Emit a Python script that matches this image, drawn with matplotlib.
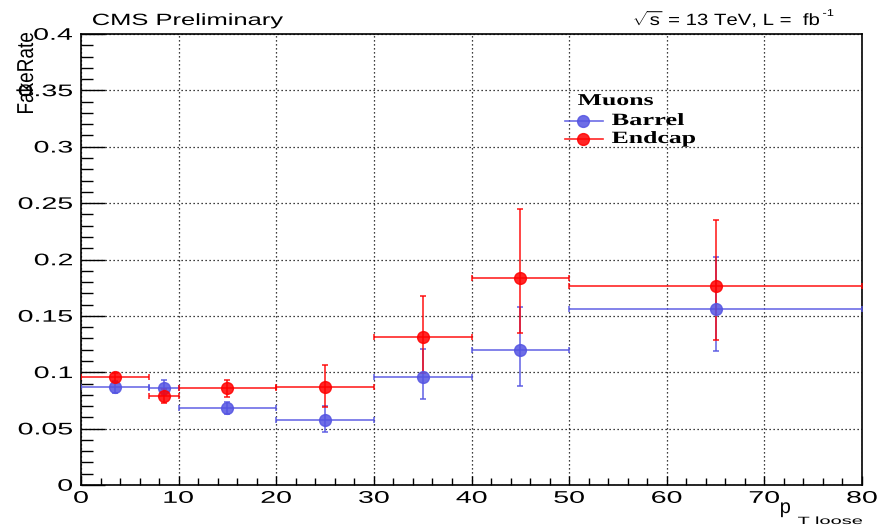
import matplotlib
matplotlib.use("Agg")
import matplotlib.pyplot as plt
from matplotlib.lines import Line2D
from matplotlib.ticker import MultipleLocator
from matplotlib.textpath import TextPath
from matplotlib.patches import PathPatch
from matplotlib.font_manager import FontProperties
from matplotlib.transforms import Affine2D
import numpy as np

# bins in pT loose
bin_lo = [0, 7, 10, 20, 30, 40, 50]
bin_hi = [7, 10, 20, 30, 40, 50, 80]
pt = [3.5, 8.5, 15, 25, 35, 45, 65]

# barrel fake rate with asymmetric errors (low / high edges)
barrel = [0.087, 0.086, 0.068, 0.058, 0.096, 0.120, 0.156]
barrel_lo = [0.082, 0.080, 0.063, 0.047, 0.076, 0.088, 0.119]
barrel_hi = [0.092, 0.093, 0.074, 0.070, 0.121, 0.158, 0.202]

# endcap fake rate
endcap = [0.0955, 0.079, 0.0857, 0.0866, 0.131, 0.184, 0.1765]
endcap_lo = [0.091, 0.073, 0.078, 0.0695, 0.0996, 0.135, 0.129]
endcap_hi = [0.0996, 0.085, 0.093, 0.1064, 0.168, 0.245, 0.235]

xticks = [0, 10, 20, 30, 40, 50, 60, 70, 80]
yticks = [0, 0.05, 0.1, 0.15, 0.2, 0.25, 0.3, 0.35, 0.4]
ytick_labels = ['0', '0.05', '0.1', '0.15', '0.2', '0.25', '0.3', '0.35', '0.4']

plt.rcParams['font.family'] = ['Liberation Sans', 'DejaVu Sans']
plt.rcParams['mathtext.fontset'] = 'custom'
plt.rcParams['mathtext.rm'] = 'Liberation Sans'
plt.rcParams['mathtext.it'] = 'Liberation Sans'

W, H = 889, 525
fig = plt.figure(figsize=(W / 100, H / 100), dpi=100)
ax = fig.add_axes([81 / W, 40 / H, (862 - 81) / W, (485 - 34) / H])


def px(x, y):
    return x / W, 1 - y / H


def stext(s, x, y, em, width=None, sx=1.0, ha='left', va='baseline', rot=0,
          family='Liberation Sans', weight='normal'):
    # text as a path so it can be stretched sideways like the ROOT output
    tp = TextPath((0, 0), s, size=em, prop=FontProperties(family=family, weight=weight))
    ext = tp.get_extents()
    if width is not None:
        sx = width / ext.width
    ox = {'left': ext.x0, 'center': (ext.x0 + ext.x1) / 2, 'right': ext.x1}[ha]
    oy = {'baseline': 0, 'center': (ext.y0 + ext.y1) / 2, 'top': ext.y1}[va]
    t = Affine2D().translate(-ox, -oy).scale(sx, 1).rotate_deg(rot).translate(x, H - y)
    fig.add_artist(PathPatch(tp, transform=t, lw=0, fc='black'))


def draw(y, ylo, yhi, color):
    x = np.array(pt)
    y = np.array(y)
    xerr = [x - np.array(bin_lo), np.array(bin_hi) - x]
    yerr = [y - np.array(ylo), np.array(yhi) - y]
    ax.errorbar(x, y, xerr=xerr, yerr=yerr, fmt='o', color=color,
                ms=8.5, elinewidth=1.2, capsize=2.2, capthick=1.2,
                alpha=0.85, zorder=3)


blue = '#5454e2'
red = '#ff0000'
draw(barrel, barrel_lo, barrel_hi, blue)
draw(endcap, endcap_lo, endcap_hi, red)

ax.set_xlim(0, 80)
ax.set_ylim(0, 0.4)
ax.set_xticks(xticks)
ax.set_yticks(yticks)
ax.xaxis.set_minor_locator(MultipleLocator(2))
ax.yaxis.set_minor_locator(MultipleLocator(0.01))
ax.tick_params(which='both', direction='in', top=False, right=False,
               labelleft=False, labelbottom=False, width=1)
ax.tick_params(axis='x', which='major', length=6.5)
ax.tick_params(axis='x', which='minor', length=5)
ax.tick_params(axis='y', which='major', length=17)
ax.tick_params(axis='y', which='minor', length=8.6)
ax.grid(True, which='major', color='black', linestyle=(0, (1, 2.2)), linewidth=0.9)
for s in ax.spines.values():
    s.set_linewidth(1.2)

# tick labels, placed through the axes transform
for v in xticks:
    xx, _ = ax.transData.transform((v, 0))
    stext(str(v), xx, 497, 17, sx=1.68, ha='center', va='center')
for v, lab in zip(yticks, ytick_labels):
    _, yy = ax.transData.transform((0, v))
    stext(lab, 72, H - yy, 16.8, sx=1.7, ha='right', va='center')

# header texts
stext('CMS Preliminary', 93, 25, 16.3, width=190)
stext(r'$\sqrt{s}$ = 13 TeV, L =  fb', 819, 25, 16.3, sx=1.25, ha='right')
stext('-1', 823, 16, 10, sx=1.3, ha='left')

# axis titles
stext('FakeRate', 33, 113, 23, width=80, rot=90)
stext('p', 781, 513, 20)
stext('T loose', 798, 524, 10.5, width=64)

# legend
stext('Muons', 578, 105, 16.6, width=75, family='Liberation Serif', weight='bold')
for yy, ty, lab, wd, col in [(120.7, 125, 'Barrel', 72, blue), (139.3, 143, 'Endcap', 83, red)]:
    x0, y0 = px(565, yy)
    x1, _ = px(603, yy)
    xm, _ = px(583, yy)
    fig.add_artist(Line2D([x0, x1], [y0, y0], color=col, lw=1.2, alpha=0.85,
                          transform=fig.transFigure))
    fig.add_artist(Line2D([xm], [y0], marker='o', ms=8.5, color=col, alpha=0.85,
                          transform=fig.transFigure))
    stext(lab, 612, ty, 17.2, width=wd, family='Liberation Serif', weight='bold')

fig.savefig('out.png', dpi=100)
